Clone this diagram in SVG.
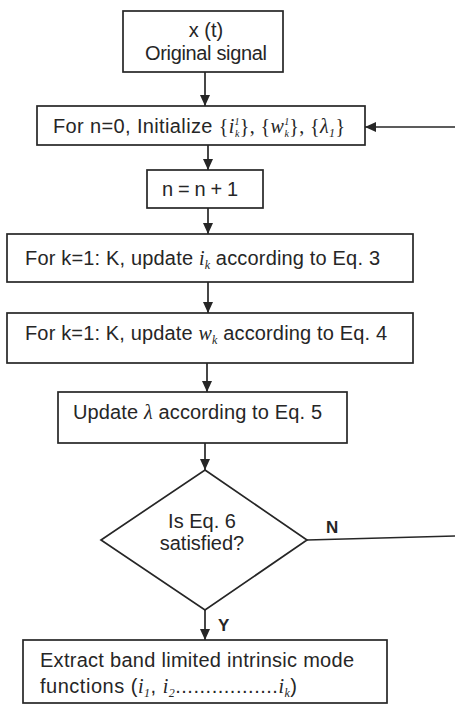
<svg xmlns="http://www.w3.org/2000/svg" width="455" height="705" viewBox="0 0 455 705">
<style>
.box{fill:#fff;stroke:#262626;stroke-width:1.7}
.t{font-family:"Liberation Sans",Arial,sans-serif;font-size:20px;fill:#262626}
.m{font-family:"Liberation Serif","Times New Roman",serif;font-style:italic}
.b{font-family:"Liberation Serif","Times New Roman",serif}
.s{font-family:"Liberation Serif","Times New Roman",serif;font-style:italic;font-size:12px}
.ss{font-family:"Liberation Serif","Times New Roman",serif;font-style:italic;font-size:10px}
.lbl{font-family:"Liberation Sans",Arial,sans-serif;font-size:17px;font-weight:bold;fill:#262626}
.c{fill:none;stroke:#262626;stroke-width:1.7}
</style>
<defs>
<marker id="ah" markerUnits="userSpaceOnUse" markerWidth="12" markerHeight="12" viewBox="0 0 12 12" refX="11" refY="6" orient="auto">
<path d="M0,1 L11,6 L0,11 Z" fill="#262626"/>
</marker>
</defs>
<rect width="455" height="705" fill="#fff"/>
<g id="connectors">
<line class="c" x1="205" y1="72" x2="205" y2="106" marker-end="url(#ah)"/>
<line class="c" x1="208" y1="145" x2="208" y2="170" marker-end="url(#ah)"/>
<line class="c" x1="208" y1="208" x2="208" y2="234" marker-end="url(#ah)"/>
<line class="c" x1="208" y1="282" x2="208" y2="313" marker-end="url(#ah)"/>
<line class="c" x1="207" y1="363" x2="207" y2="392" marker-end="url(#ah)"/>
<line class="c" x1="205" y1="443" x2="205" y2="470" marker-end="url(#ah)"/>
<line class="c" x1="205" y1="610" x2="205" y2="640" marker-end="url(#ah)"/>
<line class="c" x1="455" y1="127" x2="365" y2="127" marker-end="url(#ah)"/>
<line class="c" x1="307" y1="540" x2="455" y2="536"/>
<text class="lbl" x="326" y="533">N</text>
<text class="lbl" x="218" y="631">Y</text>
</g>
<g id="n1">
<rect class="box" x="123" y="11" width="160" height="61"/>
<text class="t" x="206" y="37" text-anchor="middle">x (t)</text>
<text class="t" x="206" y="60" text-anchor="middle" textLength="122">Original signal</text>
</g>
<g id="n2">
<rect class="box" x="37" y="106" width="328" height="39"/>
<text class="t" x="53" y="133" textLength="292">For n=0, Initialize <tspan class="b">{</tspan><tspan class="m">i</tspan><tspan class="ss" dy="-8">1</tspan><tspan class="ss" dx="-5" dy="12">k</tspan><tspan class="b" dy="-4">}, {</tspan><tspan class="m">w</tspan><tspan class="ss" dy="-8">1</tspan><tspan class="ss" dx="-5" dy="12">k</tspan><tspan class="b" dy="-4">}, {</tspan><tspan class="m">λ</tspan><tspan class="s" font-style="normal" dy="4">1</tspan><tspan class="b" dy="-4">}</tspan></text>
</g>
<g id="n3">
<rect class="box" x="147" y="170" width="116" height="38"/>
<text class="t" x="200" y="196" text-anchor="middle" textLength="76">n = n + 1</text>
</g>
<g id="n4">
<rect class="box" x="7" y="234" width="406" height="48"/>
<text class="t" x="25" y="265" textLength="355">For k=1: K, update <tspan class="m">i</tspan><tspan class="s" dy="4">k</tspan><tspan dy="-4"> according to Eq. 3</tspan></text>
</g>
<g id="n5">
<rect class="box" x="7" y="313" width="406" height="50"/>
<text class="t" x="25" y="340" textLength="362">For k=1: K, update <tspan class="m">w</tspan><tspan class="s" dy="4">k</tspan><tspan dy="-4"> according to Eq. 4</tspan></text>
</g>
<g id="n6">
<rect class="box" x="58" y="392" width="289" height="51"/>
<text class="t" x="73" y="419" textLength="249">Update <tspan class="m">λ</tspan> according to Eq. 5</text>
</g>
<g id="n7">
<polygon class="box" points="205,470 307,540 205,610 101,540"/>
<text class="t" x="202" y="528" text-anchor="middle">Is Eq. 6</text>
<text class="t" x="202" y="550" text-anchor="middle">satisfied?</text>
</g>
<g id="n8">
<rect class="box" x="23" y="640" width="364" height="63"/>
<text class="t" x="40" y="667" textLength="314">Extract band limited  intrinsic mode</text>
<text class="t" x="40" y="693" textLength="257">functions (<tspan class="m">i</tspan><tspan class="s" font-style="normal" dy="4">1</tspan><tspan dy="-4">, </tspan><tspan class="m">i</tspan><tspan class="s" font-style="normal" dy="4">2</tspan><tspan dy="-4">.................</tspan><tspan class="m">i</tspan><tspan class="s" dy="4">k</tspan><tspan dy="-4">)</tspan></text>
</g>
</svg>
